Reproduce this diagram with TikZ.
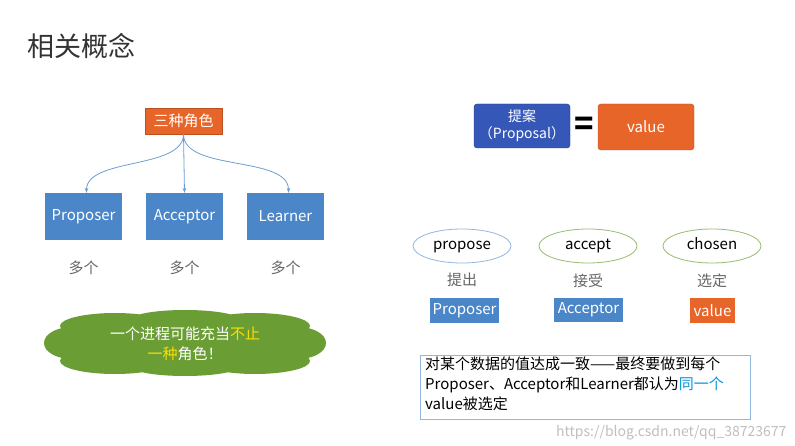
\documentclass[tikz,border=0pt]{standalone}
\usepackage{fontspec}
\setmainfont{Noto Sans CJK SC}
\usetikzlibrary{shapes.geometric,arrows.meta}
\definecolor{bbox}{HTML}{4A86C8}
\definecolor{obox}{HTML}{E8652A}
\definecolor{dbox}{HTML}{3557B7}
\definecolor{cgreen}{HTML}{6A9E35}
\definecolor{gtext}{HTML}{666666}
\tikzset{
 fs/.style={font=\fontsize{15}{18}\selectfont},
 bluebox/.style={fill=bbox,text=white,minimum width=77pt,minimum height=47pt,fs},
 smallbox/.style={fill=bbox,text=white,minimum height=24pt,fs,inner sep=0pt},
 orbox/.style={fill=obox,text=white,fs,inner sep=0pt},
 lab/.style={text=gtext,fs},
 ell/.style={ellipse,draw,line width=0.8pt,fill=white,minimum width=98pt,minimum height=34pt,fs,text height=11pt,text depth=3pt},
 conn/.style={draw=bbox!80,line width=0.8pt,-{Stealth[length=5pt]}}
}
\begin{document}
\begin{tikzpicture}[x=1pt,y=-1pt]
\useasboundingbox[fill=white] (0,0) rectangle (795,446);
\node[anchor=west,font=\fontsize{27}{30}\selectfont,text=black!80] (title) at (24,46) {相关概念};
\node[orbox,minimum width=77pt,minimum height=26pt,draw=obox!80!black] (roles) at (183.5,121) {三种角色};
\node[bluebox] (p) at (83.5,216.5) {Proposer};
\node[bluebox] (a) at (184.5,216.5) {Acceptor};
\node[bluebox] (l) at (285.5,216.5) {Learner};
\draw[conn] (roles.south) to[out=-90,in=90,looseness=0.8] ([xshift=3pt]p.north);
\draw[conn] (roles.south) -- (a.north);
\draw[conn] (roles.south) to[out=-90,in=90,looseness=0.8] ([xshift=3pt]l.north);
\node[lab] (m1) at (83.5,268) {多个};
\node[lab] (m2) at (184.5,268) {多个};
\node[lab] (m3) at (285.5,268) {多个};
\fill[cgreen] (185,343) ellipse [x radius=128,y radius=22]
 (72,343) ellipse [x radius=28,y radius=16]
 (298,343) ellipse [x radius=28,y radius=16]
 (115,326) ellipse [x radius=55,y radius=13]
 (255,326) ellipse [x radius=55,y radius=13]
 (185,320) ellipse [x radius=55,y radius=10]
 (115,361) ellipse [x radius=55,y radius=13]
 (255,361) ellipse [x radius=55,y radius=13]
 (185,366) ellipse [x radius=55,y radius=10];
\node[align=center,text=white,font=\fontsize{15}{20}\selectfont] (cl) at (185,344) {一个进程可能充当\textcolor{yellow!80!orange}{不止}\\\textcolor{yellow!80!orange}{一种}角色！};
\node[fill=dbox,draw=dbox!70!black,rounded corners=3pt,text=white,minimum width=96pt,minimum height=44pt,align=center,font=\fontsize{14}{17}\selectfont] (prop) at (522,126) {提案\\（Proposal）};
\node[font=\fontsize{32}{32}\selectfont\bfseries] (eq) at (584,126) {=};
\node[orbox,draw=obox!80!black,rounded corners=3pt,minimum width=96pt,minimum height=46pt] (val) at (646,127) {value};
\node[ell,draw=bbox!60] (e1) at (462,246) {propose};
\node[ell,draw=cgreen!70] (e2) at (588,246) {accept};
\node[ell,draw=cgreen!70] (e3) at (712,246) {chosen};
\node[lab] (t1) at (462,280) {提出};
\node[lab] (t2) at (588,281) {接受};
\node[lab] (t3) at (712,281) {选定};
\node[smallbox,minimum width=69pt] (b1) at (464.5,310.5) {Proposer};
\node[smallbox,minimum width=69pt] (b2) at (588.5,310) {Acceptor};
\node[orbox,minimum width=45pt,minimum height=24pt] (b3) at (712.5,310.5) {value};
\node[draw=bbox!60,line width=0.8pt,minimum width=330pt,minimum height=64pt,anchor=north west,inner sep=0pt] (txtbox) at (420,355) {};
\node[anchor=north west,align=left,font=\fontsize{15}{20}\selectfont,inner sep=0pt] (txt) at (425,357) {对某个数据的值达成一致——最终要做到每个\\Proposer、Acceptor和Learner都认为\textcolor{cyan!80!blue}{同一个}\\value被选定};
\node[anchor=south east,text=black!25,font=\fontsize{14}{15}\selectfont] (wm) at (790,444) {https://blog.csdn.net/qq\_38723677};
\end{tikzpicture}
\end{document}
